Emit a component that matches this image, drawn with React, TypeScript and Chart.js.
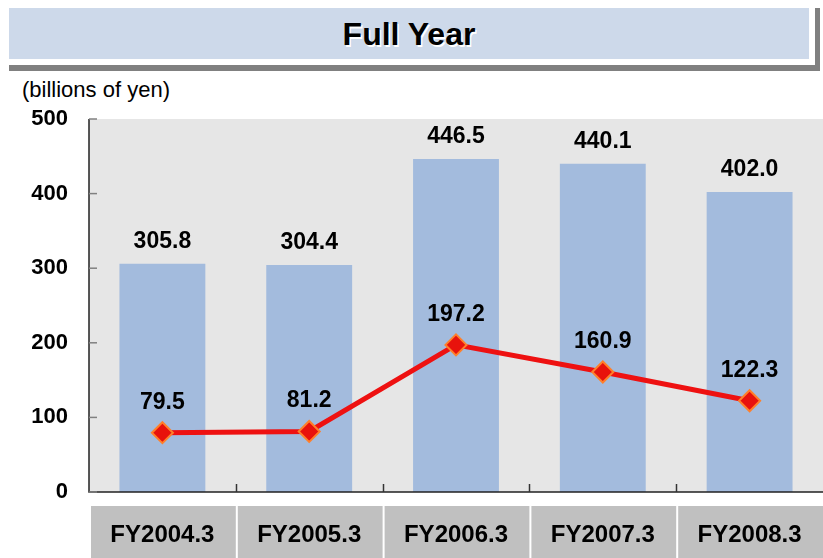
import React, { useEffect, useRef } from 'react';
import { Chart, registerables } from 'chart.js';

Chart.register(...registerables);

const titleText = 'Full Year';
const unitText = '(billions of yen)';
const categories = ['FY2004.3', 'FY2005.3', 'FY2006.3', 'FY2007.3', 'FY2008.3'];
const barValues = [305.8, 304.4, 446.5, 440.1, 402.0];
const lineValues = [79.5, 81.2, 197.2, 160.9, 122.3];
const yTicks = [0, 100, 200, 300, 400, 500];

const FONT = 'Arial, "Liberation Sans", Helvetica, sans-serif';

const decorPlugin = {
  id: 'decor',
  beforeDraw(chart: any) {
    const { ctx, chartArea: a, scales } = chart;
    const x = scales.x;
    ctx.save();
    ctx.fillStyle = '#e6e6e6';
    ctx.fillRect(a.left, a.top, a.right - a.left, a.bottom - a.top);
    const w = (a.right - a.left) / categories.length;
    ctx.fillStyle = '#c0c0c0';
    categories.forEach((_, i) => {
      const left = x.getPixelForValue(i) - w / 2;
      ctx.fillRect(left + 2, a.bottom + 14, w - 2, chart.height - a.bottom - 14);
    });
    ctx.restore();
  },
  afterDatasetsDraw(chart: any) {
    const { ctx, chartArea: a, scales } = chart;
    const x = scales.x;
    const y = scales.y;
    const w = (a.right - a.left) / categories.length;
    ctx.save();
    // axis lines
    ctx.strokeStyle = '#222222';
    ctx.lineWidth = 1.5;
    ctx.beginPath();
    ctx.moveTo(a.left, a.top);
    ctx.lineTo(a.left, a.bottom);
    ctx.lineTo(a.right + 2, a.bottom);
    ctx.stroke();
    // inward y ticks
    ctx.strokeStyle = '#808080';
    ctx.lineWidth = 1.5;
    yTicks.forEach((v) => {
      const py = y.getPixelForValue(v);
      ctx.beginPath();
      ctx.moveTo(a.left, py);
      ctx.lineTo(a.left + 8, py);
      ctx.stroke();
    });
    // inward x ticks at category boundaries
    ctx.strokeStyle = '#333333';
    categories.forEach((_, i) => {
      if (i === 0) return;
      const px = Math.round(x.getPixelForValue(i) - w / 2) + 0.5;
      ctx.beginPath();
      ctx.moveTo(px, a.bottom);
      ctx.lineTo(px, a.bottom - 8);
      ctx.stroke();
    });
    // value labels
    ctx.fillStyle = '#000000';
    ctx.textAlign = 'center';
    ctx.textBaseline = 'alphabetic';
    ctx.font = `bold 23px ${FONT}`;
    const lineMeta = chart.getDatasetMeta(0);
    const barMeta = chart.getDatasetMeta(1);
    barMeta.data.forEach((el: any, i: number) => {
      ctx.fillText(barValues[i].toFixed(1), el.x, el.y - 16);
    });
    lineMeta.data.forEach((el: any, i: number) => {
      ctx.fillText(lineValues[i].toFixed(1), el.x, el.y - 24);
    });
    // category labels
    ctx.font = `bold 24px ${FONT}`;
    categories.forEach((c, i) => {
      ctx.fillText(c, x.getPixelForValue(i), a.bottom + 50);
    });
    ctx.restore();
  },
};

export default function App() {
  const canvasRef = useRef<HTMLCanvasElement | null>(null);

  useEffect(() => {
    const canvas = canvasRef.current;
    if (!canvas) return;
    const chart = new Chart(canvas, {
      type: 'bar',
      data: {
        labels: categories,
        datasets: [
          {
            type: 'line',
            label: 'Line series',
            data: lineValues,
            borderColor: '#ee1111',
            borderWidth: 5,
            tension: 0,
            pointStyle: 'rectRot',
            pointRadius: 10.5,
            pointBackgroundColor: '#e8120c',
            pointBorderColor: '#ff7f2a',
            pointBorderWidth: 2,
            order: 1,
          } as any,
          {
            type: 'bar',
            label: 'Bar series',
            data: barValues,
            backgroundColor: '#a3bbdd',
            categoryPercentage: 1,
            barPercentage: 0.585,
            order: 2,
          } as any,
        ],
      },
      options: {
        responsive: false,
        animation: false,
        devicePixelRatio: 1,
        events: [],
        layout: { autoPadding: false, padding: { top: 119, bottom: 66, left: 0, right: 0 } },
        plugins: {
          legend: { display: false },
          tooltip: { enabled: false },
        },
        scales: {
          x: {
            display: false,
            offset: true,
          },
          y: {
            min: yTicks[0],
            max: yTicks[yTicks.length - 1],
            afterFit: (s: any) => {
              s.width = 89;
            },
            grid: { display: false, drawTicks: false, tickLength: 0 },
            border: { display: false },
            ticks: {
              stepSize: yTicks[1] - yTicks[0],
              padding: 21,
              color: '#000000',
              font: { family: FONT, size: 22, weight: 'bold' },
            },
          },
        },
      },
      plugins: [decorPlugin],
    });
    return () => chart.destroy();
  }, []);

  return (
    <div
      style={{
        position: 'fixed',
        left: 0,
        top: 0,
        width: 823,
        height: 558,
        background: '#ffffff',
        overflow: 'hidden',
        fontFamily: FONT,
      }}
    >
      <div style={{ position: 'absolute', left: 9, top: 8, width: 811, height: 63, background: '#808080' }} />
      <div style={{ position: 'absolute', left: 8, top: 7, width: 807, height: 58, background: '#ffffff' }} />
      <div
        style={{
          position: 'absolute',
          left: 9,
          top: 8,
          width: 800,
          height: 51,
          background: '#cdd9ea',
          display: 'flex',
          alignItems: 'center',
          justifyContent: 'center',
          fontSize: 32,
          fontWeight: 'bold',
          color: '#000000',
          textShadow: '1.5px 1.5px 0 #ffffff',
          paddingTop: 2,
          boxSizing: 'border-box',
        }}
      >
        {titleText}
      </div>
      <div
        style={{
          position: 'absolute',
          left: 22,
          top: 79,
          fontSize: 22,
          lineHeight: '21px',
          color: '#000000',
          whiteSpace: 'nowrap',
        }}
      >
        {unitText}
      </div>
      <canvas
        ref={canvasRef}
        width={823}
        height={558}
        style={{ position: 'absolute', left: 0, top: 0, width: 823, height: 558 }}
      />
    </div>
  );
}
